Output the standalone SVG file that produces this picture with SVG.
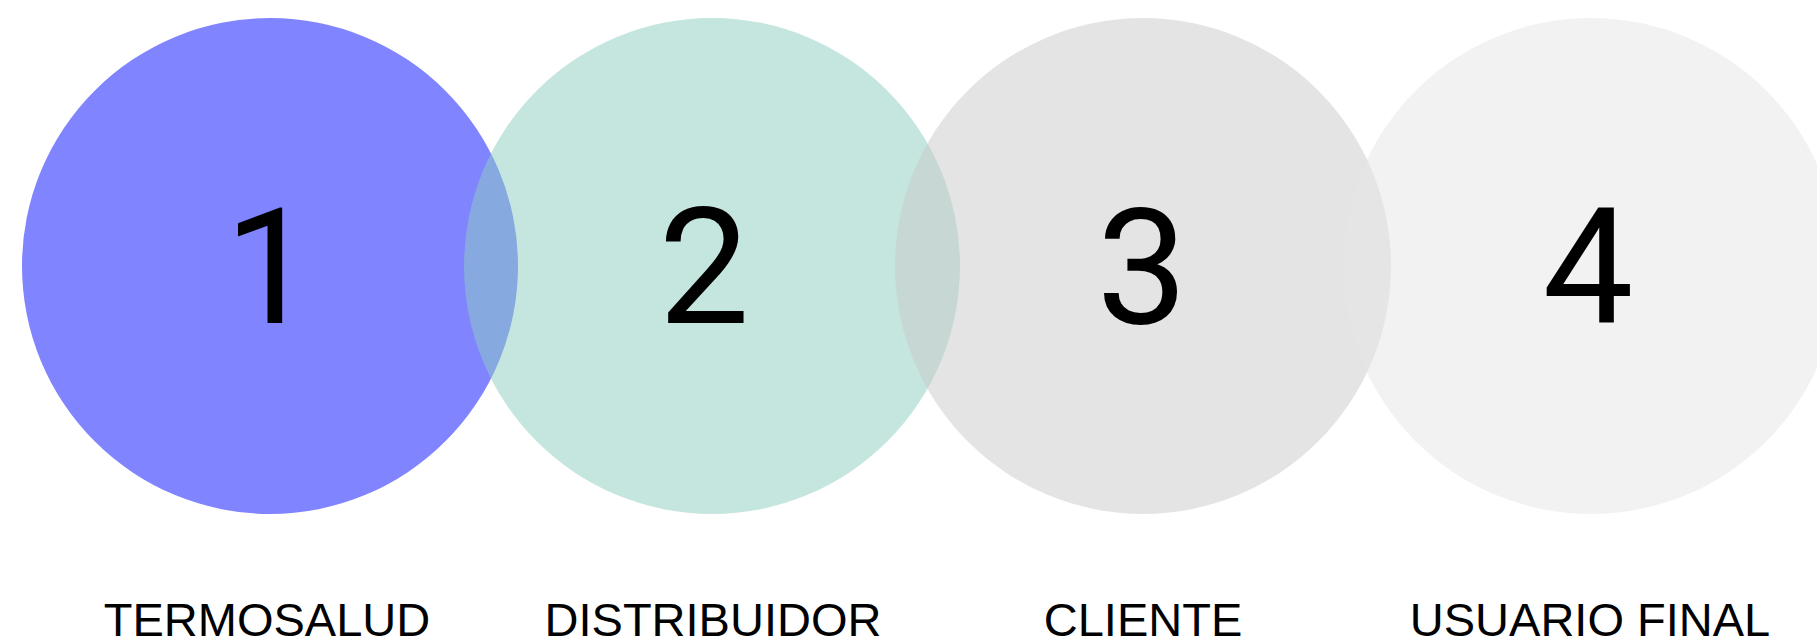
<svg xmlns="http://www.w3.org/2000/svg" width="1817" height="643" viewBox="0 0 1817 643">
<style>
.num{font-family:Roboto,"Liberation Sans",Arial,sans-serif;font-size:162px;fill:#000;text-anchor:middle}
.lbl{font-family:"Liberation Sans",Arial,sans-serif;font-size:47px;fill:#000;text-anchor:middle}
</style>
<rect width="1817" height="643" fill="#fff"/>
<g id="node1">
<circle cx="270" cy="266" r="248" fill="#8084FF"/>
</g>
<g id="node2">
<circle cx="712" cy="266" r="248" fill="#8BCDBF" fill-opacity="0.5"/>
</g>
<g id="node3">
<circle cx="1143" cy="266" r="248" fill="#C9C9C9" fill-opacity="0.5"/>
</g>
<g id="node4">
<circle cx="1591" cy="266" r="248" fill="#E5E5E5" fill-opacity="0.5"/>
</g>
<g id="labels">
<text class="num" x="270" y="323">1</text>
<text class="num" x="704" y="323">2</text>
<text class="num" x="1142" y="323">3</text>
<text class="num" x="1588" y="323">4</text>
<text class="lbl" x="267" y="636">TERMOSALUD</text>
<text class="lbl" x="713" y="636">DISTRIBUIDOR</text>
<text class="lbl" x="1143" y="636">CLIENTE</text>
<text class="lbl" x="1590" y="636">USUARIO FINAL</text>
</g>
<g id="connectors"></g>
</svg>
